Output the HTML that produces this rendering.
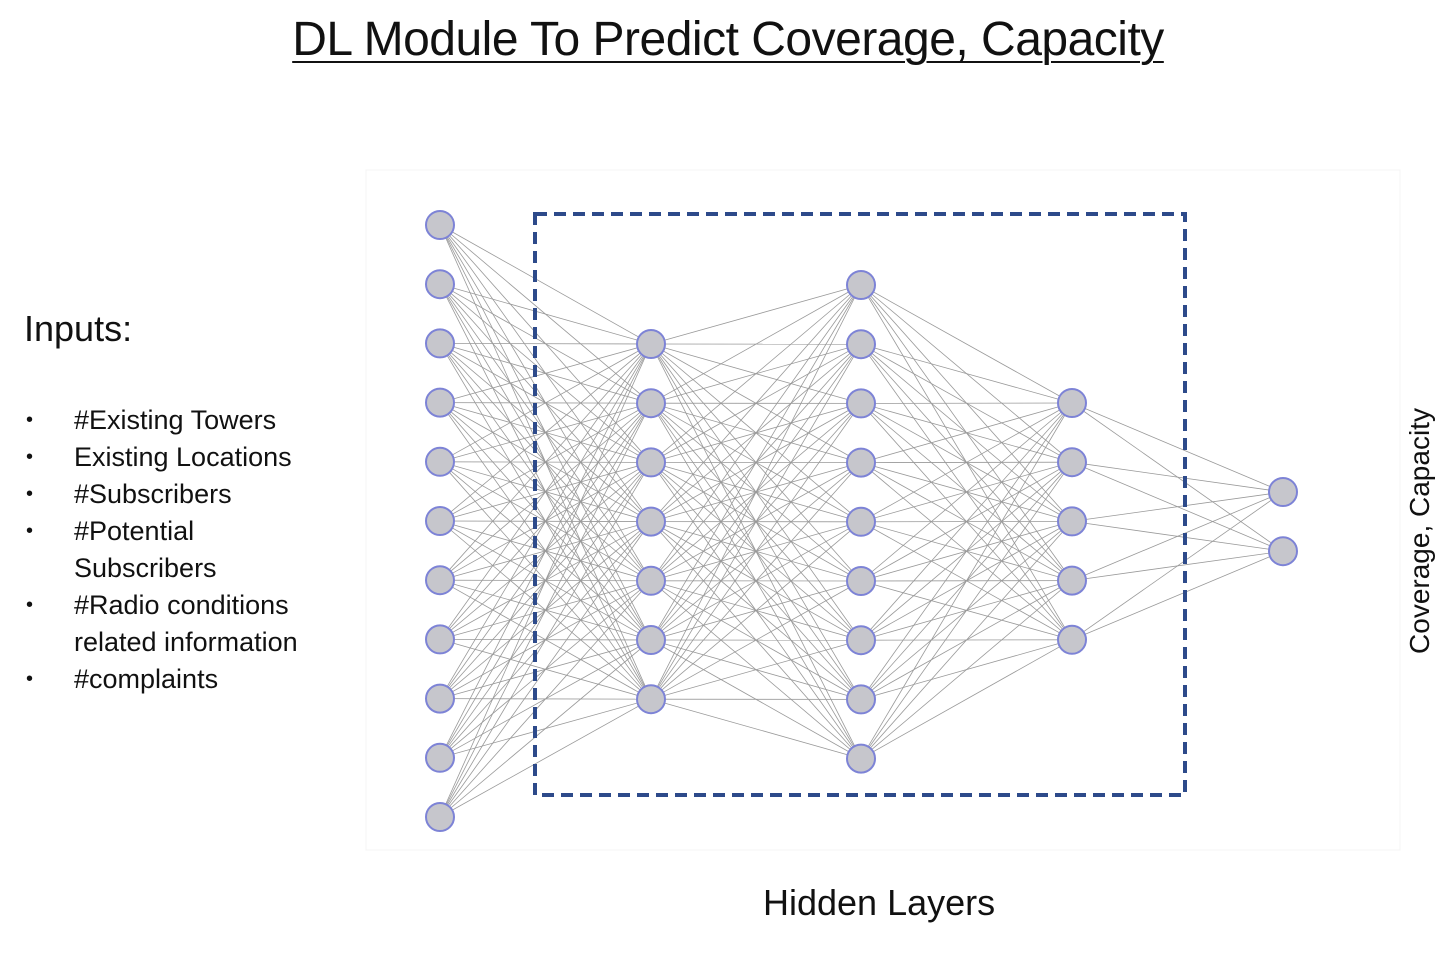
<!DOCTYPE html>
<html><head><meta charset="utf-8"><style>
html,body{margin:0;padding:0;background:#fff;}
body{width:1456px;height:954px;position:relative;overflow:hidden;font-family:"Liberation Sans",sans-serif;}
.t{position:absolute;left:0;width:1456px;top:12px;text-align:center;font-size:48px;text-decoration:underline;text-decoration-thickness:2px;text-underline-offset:6px;color:#111;letter-spacing:-0.5px;}
.inp{position:absolute;left:24px;top:308px;font-size:36px;color:#111;}
ul{position:absolute;left:24px;top:402px;margin:0;padding:0;list-style:none;font-size:27px;color:#111;line-height:37px;}
li{padding-left:50px;position:relative;}
li:before{content:"•";position:absolute;left:2px;font-size:20px;}
.hl{position:absolute;left:763px;top:882px;font-size:36px;color:#111;}
.cc{position:absolute;left:1420px;top:531px;transform:translate(-50%,-50%) rotate(-90deg);font-size:28px;white-space:nowrap;color:#111;}
svg{position:absolute;left:0;top:0;}
</style></head><body>
<div class="t">DL Module To Predict Coverage, Capacity</div>
<div class="inp">Inputs:</div>
<ul>
<li>#Existing Towers</li>
<li>Existing Locations</li>
<li>#Subscribers</li>
<li>#Potential<br>Subscribers</li>
<li>#Radio conditions<br>related information</li>
<li>#complaints</li>
</ul>
<svg id="s" width="1456" height="954" xmlns="http://www.w3.org/2000/svg">
<rect x="366" y="170" width="1034" height="680" fill="none" stroke="#f4f4f4" stroke-width="1"/>
<g id="lines" stroke="#777" stroke-width="0.8" opacity="0.75"></g>
<rect x="535" y="214" width="650" height="581" fill="none" stroke="#2d4a8a" stroke-width="4" stroke-dasharray="12,7"/>
<g id="nodes" fill="#c6c6cc" stroke="#7d83d6" stroke-width="2"></g>
</svg>
<div class="hl">Hidden Layers</div>
<div class="cc">Coverage, Capacity</div>
<script>
var L=[[440,225,11],[651,344,7],[861,285,9],[1072,403,5],[1283,492,2]];
var sp=59.2,ns="http://www.w3.org/2000/svg";
var P=L.map(function(l){var a=[];for(var i=0;i<l[2];i++)a.push([l[0],l[1]+i*sp]);return a;});
var lg=document.getElementById('lines'),ng=document.getElementById('nodes');
for(var k=0;k<P.length-1;k++)P[k].forEach(function(a){P[k+1].forEach(function(b){var e=document.createElementNS(ns,'line');e.setAttribute('x1',a[0]);e.setAttribute('y1',a[1]);e.setAttribute('x2',b[0]);e.setAttribute('y2',b[1]);lg.appendChild(e);});});
P.forEach(function(l){l.forEach(function(a){var c=document.createElementNS(ns,'circle');c.setAttribute('cx',a[0]);c.setAttribute('cy',a[1]);c.setAttribute('r',14);ng.appendChild(c);});});
</script>
</body></html>
